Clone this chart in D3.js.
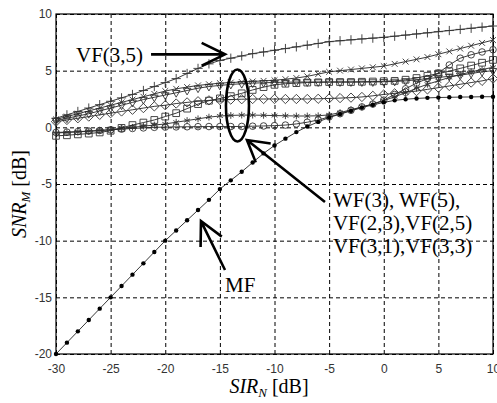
<!DOCTYPE html>
<html>
<head>
<meta charset="utf-8">
<script src="https://cdn.jsdelivr.net/npm/d3@7"></script>
<style>
  body { margin: 0; background: #fff; }
  .tick text { font-family: "Liberation Sans", Arial, sans-serif; font-size: 12px; fill: #333; }
  .ann { font-family: "Liberation Serif", "Times New Roman", serif; font-size: 21px; fill: #000; }
</style>
</head>
<body>
<div class="chart"></div>
<script>
// SIR_N axis values (dB)
var sir = [-30,-29,-28,-27,-26,-25,-24,-23,-22,-21,-20,-19,-18,-17,-16,-15,-14,-13,-12,-11,-10,
           -9,-8,-7,-6,-5,-4,-3,-2,-1,0,1,2,3,4,5,6,7,8,9,10];

// SNR_M curves (dB)
var mf   = [-20,-19,-18,-17,-16,-15,-14,-13,-12,-11,-10,-9.1,-8.2,-7.3,-6.4,-5.45,-4.68,-3.92,-3.1,-2.3,-1.6,
            -1.0,-0.42,0.07,0.48,0.87,1.16,1.45,1.74,1.98,2.2,2.38,2.48,2.55,2.6,2.63,2.65,2.67,2.68,2.7,2.7];
var vf35 = [0.8,1.1,1.4,1.7,2.0,2.3,2.6,2.9,3.25,3.6,3.95,4.3,4.75,5.2,5.6,5.9,6.1,6.3,6.5,6.65,6.8,
            6.95,7.1,7.25,7.4,7.56,7.64,7.72,7.8,7.87,7.94,8.04,8.14,8.24,8.34,8.44,8.54,8.64,8.74,8.84,8.94];
var vf33 = [0.7,0.95,1.2,1.45,1.7,1.95,2.2,2.45,2.7,2.95,3.2,3.4,3.55,3.7,3.8,3.9,3.95,4.0,4.05,4.1,4.15,
            4.25,4.35,4.5,4.7,4.9,5.0,5.1,5.2,5.3,5.4,5.6,5.8,6.0,6.2,6.45,6.7,6.95,7.2,7.45,7.7];
var vf31 = [0.6,0.8,1.0,1.2,1.45,1.7,1.95,2.2,2.45,2.65,2.85,3.05,3.25,3.45,3.6,3.7,3.78,3.85,3.9,3.93,3.96,
            3.98,4.0,4.0,4.0,4.0,4.0,4.0,4.0,4.0,4.02,4.05,4.1,4.2,4.3,4.4,4.5,4.6,4.75,4.9,5.0];
var vf25 = [-0.75,-0.7,-0.62,-0.55,-0.45,-0.3,-0.05,0.2,0.42,0.65,0.95,1.25,1.65,2.05,2.35,2.55,2.75,3.0,3.3,3.55,3.75,
            3.85,3.9,3.95,3.97,4.0,4.0,4.0,4.02,4.04,4.07,4.1,4.2,4.35,4.55,4.75,4.95,5.2,5.45,5.7,5.95];
var vf23 = [0.5,0.65,0.8,0.95,1.1,1.25,1.4,1.55,1.7,1.85,1.95,2.1,2.2,2.3,2.38,2.42,2.45,2.48,2.5,2.5,2.5,
            2.5,2.5,2.5,2.52,2.55,2.58,2.62,2.68,2.78,2.9,3.0,3.1,3.2,3.35,3.5,3.65,3.8,3.95,4.1,4.3];
var wf5  = [-0.5,-0.45,-0.4,-0.35,-0.28,-0.2,-0.1,0.0,0.1,0.2,0.3,0.45,0.6,0.75,0.9,1.0,1.05,1.08,1.08,1.06,1.04,
            1.02,1.0,1.0,1.02,1.1,1.3,1.55,1.8,2.05,2.35,2.7,3.05,3.45,3.8,4.1,4.4,4.65,4.9,5.1,5.3];
var wf3  = [-0.45,-0.42,-0.38,-0.33,-0.28,-0.22,-0.16,-0.1,-0.05,0.0,0.02,0.04,0.05,0.06,0.07,0.07,0.07,0.08,0.1,0.12,0.15,
            0.2,0.3,0.45,0.65,0.92,1.2,1.5,1.8,2.05,2.4,2.9,3.4,3.9,4.3,4.8,5.5,6.1,6.4,6.65,6.85];

var xTicks = [-30,-25,-20,-15,-10,-5,0,5,10];
var yTicks = [-20,-15,-10,-5,0,5,10];

var seriesList = [
  {name: "WF(3)",   values: wf3,  marker: "circle"},
  {name: "WF(5)",   values: wf5,  marker: "asterisk"},
  {name: "VF(2,3)", values: vf23, marker: "diamond"},
  {name: "VF(2,5)", values: vf25, marker: "square"},
  {name: "VF(3,1)", values: vf31, marker: "triangle"},
  {name: "VF(3,3)", values: vf33, marker: "times"},
  {name: "VF(3,5)", values: vf35, marker: "plus"},
  {name: "MF",      values: mf,   marker: "dot"}
];

//Width and height
var w = 497;
var h = 403;
var margin = {top: 14, right: 4, bottom: 49, left: 56};
var iw = w - margin.left - margin.right;
var ih = h - margin.top - margin.bottom;

var svg = d3.select(".chart")
    .append("svg")
    .attr("width", w)
    .attr("height", h);

var g = svg.append("g")
    .attr("transform", "translate(" + margin.left + "," + margin.top + ")");

//Scales
var x = d3.scaleLinear().domain([-30, 10]).range([0, iw]);
var y = d3.scaleLinear().domain([-20, 10]).range([ih, 0]);

//Axes with dashed grid
var xAxis = g.append("g")
    .attr("transform", "translate(0," + ih + ")")
    .call(d3.axisBottom(x).tickValues(xTicks).tickFormat(d => String(d))
        .tickSize(-ih).tickPadding(10));
var yAxis = g.append("g")
    .call(d3.axisLeft(y).tickValues(yTicks).tickFormat(d => String(d))
        .tickSize(-iw).tickPadding(4));

[xAxis, yAxis].forEach(a => {
    a.select(".domain").remove();
    a.selectAll(".tick line")
        .attr("stroke", "#000")
        .attr("stroke-dasharray", "4,3");
});
xAxis.selectAll(".tick text").attr("dy", "0.71em");

//Frame
g.append("rect")
    .attr("width", iw)
    .attr("height", ih)
    .attr("fill", "none")
    .attr("stroke", "#000")
    .attr("stroke-width", 1.2);

//Marker shapes
var shapes = {
    circle:   d3.symbol(d3.symbolCircle, 34),
    asterisk: d3.symbol(d3.symbolAsterisk, 32),
    diamond:  d3.symbol(d3.symbolDiamond2, 55),
    square:   d3.symbol(d3.symbolSquare2, 58),
    triangle: d3.symbol(d3.symbolTriangle2, 42),
    times:    d3.symbol(d3.symbolTimes, 24),
    plus:     d3.symbol(d3.symbolPlus, 30)
};

var line = d3.line()
    .x((d, i) => x(sir[i]))
    .y(d => y(d));

//Draw every series
seriesList.forEach(s => {
    var sg = g.append("g").attr("class", "series");
    sg.append("path")
        .attr("d", line(s.values))
        .attr("fill", "none")
        .attr("stroke", "#222")
        .attr("stroke-width", 0.9);

    var pts = sg.selectAll(".pt")
        .data(s.values)
        .join("g")
        .attr("class", "pt")
        .attr("transform", (d, i) => "translate(" + x(sir[i]) + "," + y(d) + ")");

    if (s.marker === "dot") {
        pts.append("circle").attr("r", 2.2).attr("fill", "#000");
    } else {
        pts.append("path")
            .attr("d", shapes[s.marker]())
            .attr("transform", s.marker === "triangle" ? "rotate(180)" : null)
            .attr("fill", "none")
            .attr("stroke", "#333")
            .attr("stroke-width", 0.9);
    }
});

//Arrow helper (tip and tail in data units)
function arrow(tip, tail, spread, len) {
    var tx = x(tip[0]), ty = y(tip[1]);
    var bx = x(tail[0]), by = y(tail[1]);
    var a = Math.atan2(by - ty, bx - tx);
    var s = spread * Math.PI / 180;
    g.append("path")
        .attr("d", "M" + bx + "," + by + "L" + tx + "," + ty +
            "M" + (tx + len * Math.cos(a - s)) + "," + (ty + len * Math.sin(a - s)) +
            "L" + tx + "," + ty +
            "L" + (tx + len * Math.cos(a + s)) + "," + (ty + len * Math.sin(a + s)))
        .attr("fill", "none")
        .attr("stroke", "#000")
        .attr("stroke-width", 2.6);
}

//Annotations
g.append("text").attr("class", "ann")
    .attr("x", x(-28.17)).attr("y", y(5.76))
    .text("VF(3,5)");
arrow([-14.53, 6.44], [-21.3, 6.44], 26, 26);

g.append("ellipse")
    .attr("cx", x(-13.39)).attr("cy", y(1.93))
    .attr("rx", 11.5).attr("ry", 36)
    .attr("fill", "none")
    .attr("stroke", "#000")
    .attr("stroke-width", 2.6);
arrow([-12.52, -1.12], [-5.38, -6.59], 30, 24);

var wfLines = ["WF(3), WF(5),", "VF(2,3),VF(2,5)", "VF(3,1),VF(3,3)"];
var wfY = [-7.03, -9.06, -11.09];
wfLines.forEach((t, i) => {
    g.append("text").attr("class", "ann")
        .attr("x", x(-4.65)).attr("y", y(wfY[i]))
        .text(t);
});

g.append("text").attr("class", "ann")
    .attr("x", x(-14.53)).attr("y", y(-14.53))
    .text("MF");
arrow([-16.73, -8.27], [-14.53, -12.59], 27, 26);

//Axis titles
var yt = svg.append("text")
    .attr("transform", "translate(26,194) rotate(-90)")
    .attr("text-anchor", "middle")
    .attr("font-family", "'Liberation Serif', 'Times New Roman', serif")
    .attr("font-size", 20);
yt.append("tspan").attr("font-style", "italic").text("SNR");
yt.append("tspan").attr("font-style", "italic").attr("font-size", 13).attr("dy", 4).text("M");
yt.append("tspan").attr("dy", -4).text(" [dB]");

var xt = svg.append("text")
    .attr("x", 269)
    .attr("y", 393)
    .attr("text-anchor", "middle")
    .attr("font-family", "'Liberation Serif', 'Times New Roman', serif")
    .attr("font-size", 20);
xt.append("tspan").attr("font-style", "italic").text("SIR");
xt.append("tspan").attr("font-style", "italic").attr("font-size", 13).attr("dy", 4).text("N");
xt.append("tspan").attr("dy", -4).text(" [dB]");
</script>
</body>
</html>
